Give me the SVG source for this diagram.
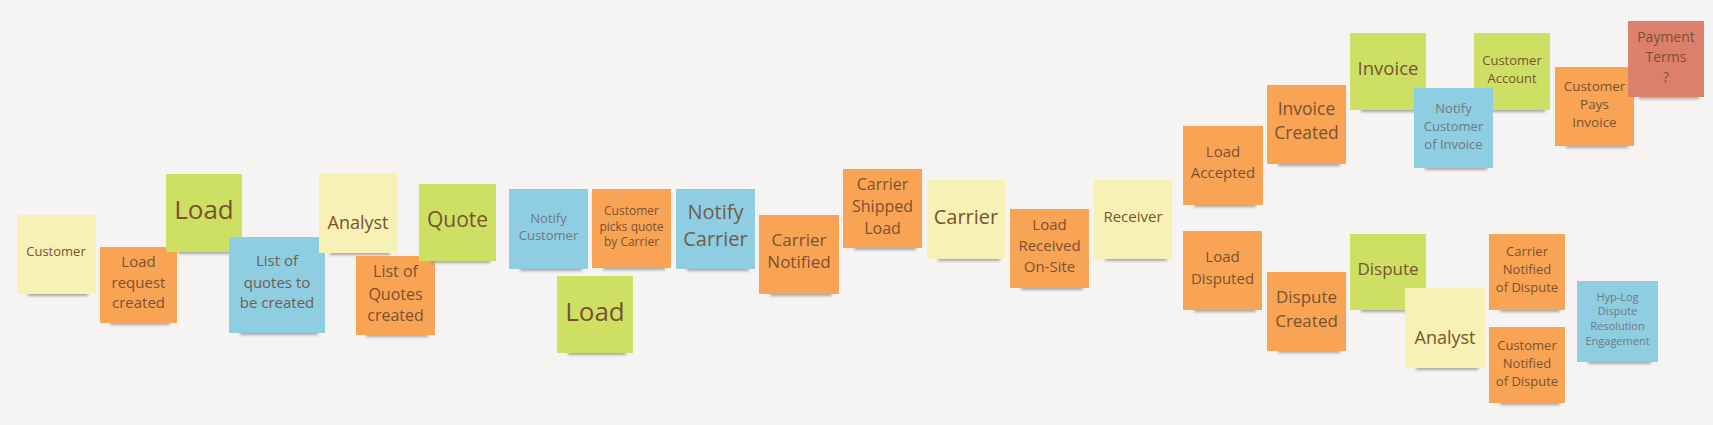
<svg xmlns="http://www.w3.org/2000/svg" width="1713" height="425" viewBox="0 0 1713 425">
<style>
.bg{fill:#f5f4f2}
.sh{fill:#8c8c8c;opacity:.75;filter:url(#blur)}
.y{fill:#f8f1b6}
.o{fill:#f9a455}
.g{fill:#cde064}
.b{fill:#8fcde3}
.r{fill:#dc806c}
text{font-family:"Open Sans","Noto Sans",sans-serif;fill:#7a5230;text-anchor:middle}
.gt{fill:#6f7a80}
.bt{fill:#6e5e4c}
</style>
<defs>
<filter id="blur" x="-10%" y="-50%" width="120%" height="200%"><feGaussianBlur stdDeviation="1.5"/></filter>
</defs>
<rect class="bg" x="0" y="0" width="1713" height="425"/>
<g id="connectors"/>
<g id="n-customer"><rect class="sh" x="28" y="290" width="60" height="6"/><rect class="y" x="17" y="215" width="79" height="79"/><text font-size="13" x="56" y="255.5">Customer</text></g>
<g id="n-load-request-created"><rect class="sh" x="110" y="319" width="60" height="6"/><rect class="o" x="100" y="247" width="77" height="76"/><text font-size="15"><tspan x="138.5" y="267">Load</tspan><tspan x="138.5" y="288">request</tspan><tspan x="138.5" y="308">created</tspan></text></g>
<g id="n-load-1"><rect class="sh" x="178" y="248" width="58" height="6"/><rect class="g" x="166" y="174" width="76" height="78"/><text font-size="26" x="204" y="219">Load</text></g>
<g id="n-list-of-quotes-to-be-created"><rect class="sh" x="240" y="329" width="78" height="6"/><rect class="b" x="229" y="237" width="96" height="96"/><text font-size="15" class="bt"><tspan x="277" y="266">List of</tspan><tspan x="277" y="288">quotes to</tspan><tspan x="277" y="308">be created</tspan></text></g>
<g id="n-analyst-1"><rect class="sh" x="330" y="249" width="60" height="6"/><rect class="y" x="319" y="173" width="79" height="80"/><text font-size="18" x="358" y="229">Analyst</text></g>
<g id="n-list-of-quotes-created"><rect class="sh" x="366" y="331" width="62" height="6"/><rect class="o" x="356" y="256" width="79" height="79"/><text font-size="16"><tspan x="395.5" y="276.5">List of</tspan><tspan x="395.5" y="299.5">Quotes</tspan><tspan x="395.5" y="320.5">created</tspan></text></g>
<g id="n-quote"><rect class="sh" x="430" y="257" width="60" height="6"/><rect class="g" x="419" y="184" width="77" height="77"/><text font-size="21" x="457.5" y="227">Quote</text></g>
<g id="n-notify-customer"><rect class="sh" x="520" y="265" width="62" height="6"/><rect class="b" x="509" y="189" width="79" height="80"/><text font-size="13" class="gt"><tspan x="548.5" y="222.5">Notify</tspan><tspan x="548.5" y="239.5">Customer</tspan></text></g>
<g id="n-customer-picks-quote"><rect class="sh" x="603" y="264" width="62" height="6"/><rect class="o" x="592" y="189" width="79" height="79"/><text font-size="12"><tspan x="631.5" y="215">Customer</tspan><tspan x="631.5" y="231">picks quote</tspan><tspan x="631.5" y="246">by Carrier</tspan></text></g>
<g id="n-notify-carrier"><rect class="sh" x="687" y="265" width="62" height="6"/><rect class="b" x="676" y="189" width="79" height="80"/><text font-size="20" class="bt"><tspan x="715.5" y="219">Notify</tspan><tspan x="715.5" y="246">Carrier</tspan></text></g>
<g id="n-carrier-notified"><rect class="sh" x="770" y="290" width="62" height="6"/><rect class="o" x="759" y="215" width="80" height="79"/><text font-size="17"><tspan x="799" y="246">Carrier</tspan><tspan x="799" y="268">Notified</tspan></text></g>
<g id="n-carrier-shipped-load"><rect class="sh" x="854" y="244" width="62" height="6"/><rect class="o" x="843" y="169" width="79" height="79"/><text font-size="16"><tspan x="882.5" y="189.5">Carrier</tspan><tspan x="882.5" y="211.5">Shipped</tspan><tspan x="882.5" y="233.5">Load</tspan></text></g>
<g id="n-carrier"><rect class="sh" x="938" y="255" width="62" height="6"/><rect class="y" x="927" y="180" width="78" height="79"/><text font-size="20" x="966" y="224">Carrier</text></g>
<g id="n-load-received-on-site"><rect class="sh" x="1021" y="284" width="62" height="6"/><rect class="o" x="1010" y="209" width="79" height="79"/><text font-size="15"><tspan x="1049.5" y="230">Load</tspan><tspan x="1049.5" y="251">Received</tspan><tspan x="1049.5" y="272">On-Site</tspan></text></g>
<g id="n-receiver"><rect class="sh" x="1105" y="255" width="62" height="6"/><rect class="y" x="1094" y="180" width="78" height="79"/><text font-size="15" x="1133" y="222">Receiver</text></g>
<g id="n-load-accepted"><rect class="sh" x="1194" y="201" width="62" height="6"/><rect class="o" x="1183" y="126" width="80" height="79"/><text font-size="15"><tspan x="1223" y="157">Load</tspan><tspan x="1223" y="178">Accepted</tspan></text></g>
<g id="n-load-disputed"><rect class="sh" x="1194" y="306" width="62" height="6"/><rect class="o" x="1183" y="231" width="79" height="79"/><text font-size="15"><tspan x="1222.5" y="262">Load</tspan><tspan x="1222.5" y="284">Disputed</tspan></text></g>
<g id="n-invoice-created"><rect class="sh" x="1278" y="160" width="62" height="6"/><rect class="o" x="1267" y="85" width="79" height="79"/><text font-size="17.5"><tspan x="1306.5" y="115">Invoice</tspan><tspan x="1306.5" y="139">Created</tspan></text></g>
<g id="n-invoice"><rect class="sh" x="1361" y="106" width="60" height="6"/><rect class="g" x="1350" y="33" width="76" height="77"/><text font-size="18.5" x="1388" y="74.5">Invoice</text></g>
<g id="n-customer-account"><rect class="sh" x="1485" y="106" width="60" height="6"/><rect class="g" x="1474" y="33" width="76" height="77"/><text font-size="13"><tspan x="1512" y="64.5">Customer</tspan><tspan x="1512" y="82.5">Account</tspan></text></g>
<g id="n-notify-customer-of-invoice"><rect class="sh" x="1425" y="164" width="62" height="6"/><rect class="b" x="1414" y="88" width="79" height="80"/><text font-size="13" class="gt"><tspan x="1453.5" y="112.5">Notify</tspan><tspan x="1453.5" y="130.5">Customer</tspan><tspan x="1453.5" y="148.5">of Invoice</tspan></text></g>
<g id="n-customer-pays-invoice"><rect class="sh" x="1566" y="142" width="62" height="6"/><rect class="o" x="1555" y="67" width="79" height="79"/><text font-size="13.5"><tspan x="1594.5" y="90.5">Customer</tspan><tspan x="1594.5" y="108.5">Pays</tspan><tspan x="1594.5" y="126.5">Invoice</tspan></text></g>
<g id="n-payment-terms"><rect class="sh" x="1639" y="93" width="60" height="6"/><rect class="r" x="1628" y="21" width="76" height="76"/><text font-size="14"><tspan x="1666" y="42">Payment</tspan><tspan x="1666" y="62">Terms</tspan><tspan x="1666" y="82">?</tspan></text></g>
<g id="n-dispute-created"><rect class="sh" x="1278" y="347" width="62" height="6"/><rect class="o" x="1267" y="272" width="79" height="79"/><text font-size="17"><tspan x="1306.5" y="303">Dispute</tspan><tspan x="1306.5" y="327">Created</tspan></text></g>
<g id="n-dispute"><rect class="sh" x="1361" y="306" width="60" height="6"/><rect class="g" x="1350" y="234" width="76" height="76"/><text font-size="17" x="1388" y="275">Dispute</text></g>
<g id="n-analyst-2"><rect class="sh" x="1416" y="364" width="62" height="6"/><rect class="y" x="1405" y="288" width="80" height="80"/><text font-size="18" x="1445" y="344">Analyst</text></g>
<g id="n-carrier-notified-of-dispute"><rect class="sh" x="1500" y="306" width="60" height="6"/><rect class="o" x="1489" y="234" width="76" height="76"/><text font-size="13"><tspan x="1527" y="256">Carrier</tspan><tspan x="1527" y="274">Notified</tspan><tspan x="1527" y="292">of Dispute</tspan></text></g>
<g id="n-customer-notified-of-dispute"><rect class="sh" x="1500" y="399" width="60" height="6"/><rect class="o" x="1489" y="327" width="76" height="76"/><text font-size="13"><tspan x="1527" y="349.5">Customer</tspan><tspan x="1527" y="367.5">Notified</tspan><tspan x="1527" y="386">of Dispute</tspan></text></g>
<g id="n-hyp-log-dispute"><rect class="sh" x="1588" y="358" width="63" height="6"/><rect class="b" x="1577" y="281" width="81" height="81"/><text font-size="11" class="gt"><tspan x="1617.5" y="301">Hyp-Log</tspan><tspan x="1617.5" y="315">Dispute</tspan><tspan x="1617.5" y="330">Resolution</tspan><tspan x="1617.5" y="345">Engagement</tspan></text></g>
<g id="n-load-2"><rect class="sh" x="568" y="349" width="58" height="6"/><rect class="g" x="557" y="276" width="76" height="77"/><text font-size="26" x="595" y="321">Load</text></g>
</svg>
